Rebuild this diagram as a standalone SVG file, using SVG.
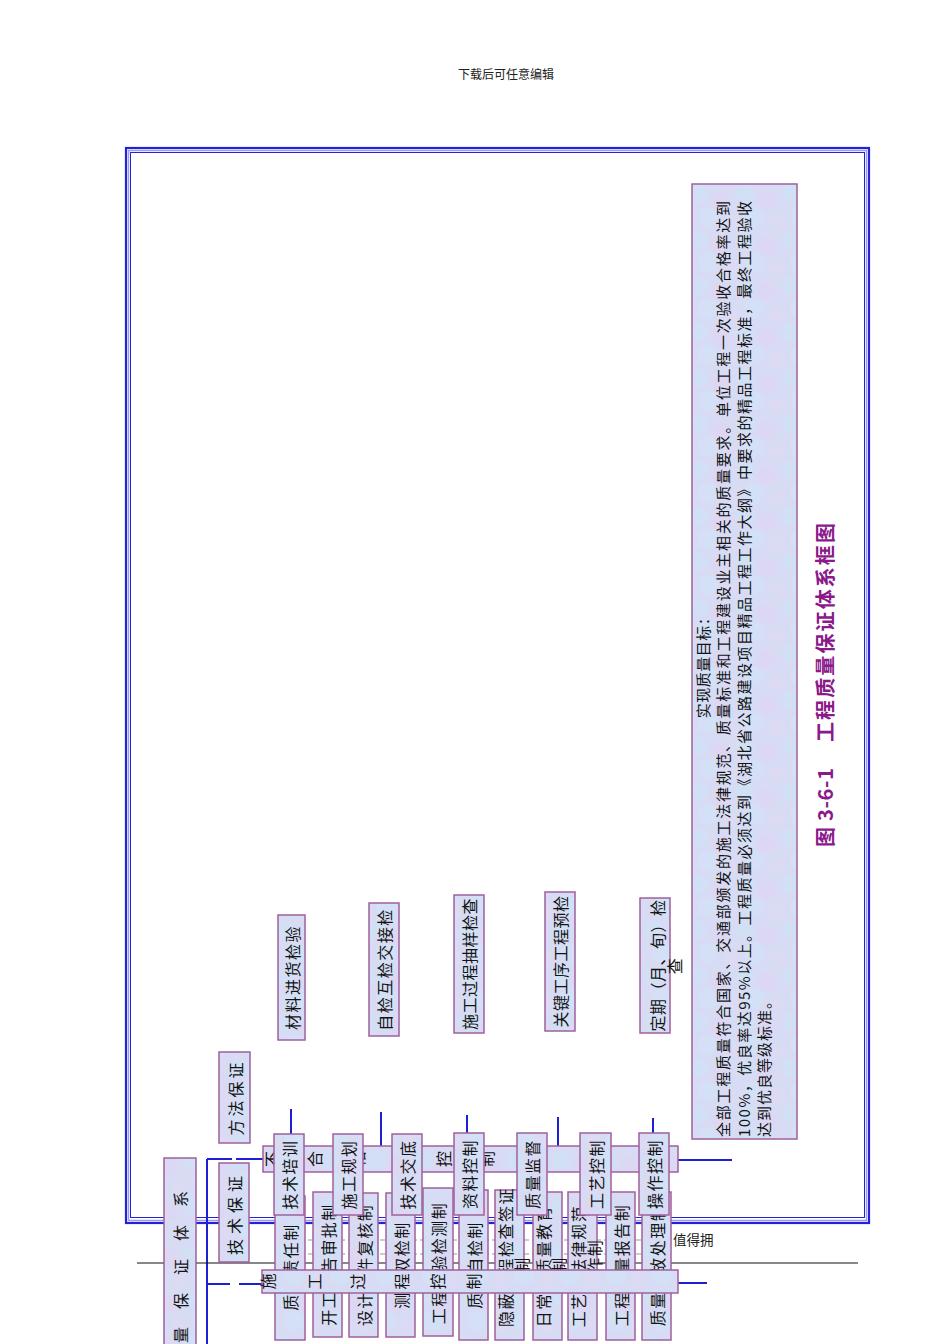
<svg xmlns="http://www.w3.org/2000/svg" width="950" height="1344" viewBox="0 0 950 1344">
<defs>
<pattern id="tex" width="46" height="46" patternUnits="userSpaceOnUse">
<rect width="46" height="46" fill="#d7dcf4"/>
<circle cx="9" cy="10" r="9" fill="#cfe2f6" opacity="0.6"/>
<circle cx="31" cy="16" r="10" fill="#e0d6f1" opacity="0.6"/>
<circle cx="18" cy="33" r="10" fill="#d0e2f7" opacity="0.6"/>
<circle cx="41" cy="38" r="7" fill="#e1d8f2" opacity="0.6"/>
</pattern>
<style>
.box{fill:url(#tex);stroke:#a0609c;stroke-width:1.5}
.t{font-family:"Noto Sans CJK SC","Noto Sans CJK JP",sans-serif;font-size:16px;letter-spacing:1.5px;text-anchor:middle;dominant-baseline:central;fill:#141414}
.t2{letter-spacing:0.5px}
.bt{font-family:"Noto Sans CJK SC","Noto Sans CJK JP",sans-serif;font-size:16px;fill:#141414}
.g{font-family:"Noto Sans CJK SC","Noto Sans CJK JP",sans-serif;font-size:15px;dominant-baseline:central;fill:#141414}
.ttl{font-family:"Noto Sans CJK SC","Noto Sans CJK JP",sans-serif;font-size:20px;font-weight:bold;dominant-baseline:central;fill:#8a1a8a}
.ln{stroke:#1e1ed2;stroke-width:2;fill:none}
.plain{font-family:"Noto Sans CJK SC","Noto Sans CJK JP",sans-serif;fill:#222}
</style>
</defs>
<rect width="950" height="1344" fill="#fff"/>
<text class="plain" x="506" y="79" font-size="12" text-anchor="middle">下载后可任意编辑</text>

<g id="frame">
<rect x="126" y="148" width="743" height="1075" fill="none" stroke="#2323d6" stroke-width="2.2"/>
<rect x="128.5" y="150.5" width="738" height="1070" fill="none" stroke="#9a9aff" stroke-width="1.5"/>
<rect x="130.5" y="152.5" width="734" height="1065" fill="none" stroke="#2323d6" stroke-width="1"/>
</g>

<g id="connectors">
<line class="ln" x1="207" y1="1159" x2="207" y2="1344"/>
<path class="ln" d="M207 1159H232M236 1159H264M207 1284H230M239 1284H263"/>
<path class="ln" d="M291 1109V1150M381 1112V1150M467 1115V1150M558 1117V1150M653 1118V1150"/>
<path class="ln" d="M676 1160H732M676 1283H707"/>
<line x1="137" y1="1263" x2="858" y2="1263" stroke="#111" stroke-width="1.2"/>
<path d="M300 1240H668M300 1254H668" stroke="#999" stroke-width="1" stroke-dasharray="5 3" fill="none"/>
</g>

<text class="plain" x="673" y="1245" font-size="13.5">值得拥</text>

<g id="goal">
<rect class="box" x="692" y="184" width="105" height="955"/>
<text class="g" style="text-anchor:middle;letter-spacing:0.5px" transform="translate(702 664) rotate(-90)">实现质量目标：</text>
<text class="g" textLength="936" lengthAdjust="spacing" transform="translate(722 1137) rotate(-90)">全部工程质量符合国家、交通部颁发的施工法律规范、质量标准和工程建设业主相关的质量要求。单位工程一次验收合格率达到</text>
<text class="g" textLength="936" lengthAdjust="spacing" transform="translate(743 1137) rotate(-90)">100%，优良率达95%以上。工程质量必须达到《湖北省公路建设项目精品工程工作大纲》中要求的精品工程标准，最终工程验收</text>
<text class="g" style="letter-spacing:1px" transform="translate(763 1137) rotate(-90)">达到优良等级标准。</text>
</g>

<g id="title">
<text class="ttl" textLength="79" lengthAdjust="spacing" transform="translate(824 847) rotate(-90)">图 3-6-1</text>
<text class="ttl" textLength="219" lengthAdjust="spacing" transform="translate(824 742) rotate(-90)">工程质量保证体系框图</text>
</g>

<g id="check1"><rect class="box" x="278" y="915" width="27" height="125"/><text class="t" transform="translate(291.5 977.5) rotate(-90)">材料进货检验</text></g>
<g id="check2"><rect class="box" x="369" y="903" width="30" height="133"/><text class="t" transform="translate(384 969.5) rotate(-90)">自检互检交接检</text></g>
<g id="check3"><rect class="box" x="454" y="895" width="30" height="138"/><text class="t t2" transform="translate(469 964) rotate(-90)">施工过程抽样检查</text></g>
<g id="check4"><rect class="box" x="545" y="892" width="30" height="139"/><text class="t t2" transform="translate(560 961.5) rotate(-90)">关键工序工程预检</text></g>
<g id="check5"><rect class="box" x="640" y="898" width="30" height="135"/><text class="t t2" transform="translate(657 965.5) rotate(-90)">定期（月、旬）检</text><text class="t" transform="translate(674 965.5) rotate(-90)">查</text></g>

<g id="method"><rect class="box" x="219" y="1052" width="31" height="91"/><text class="t" style="font-size:16px;letter-spacing:3px" transform="translate(234.5 1097.5) rotate(-90)">方法保证</text></g>
<g id="tech"><rect class="box" x="219" y="1163" width="30" height="99"/><text class="t" style="font-size:16px;letter-spacing:5px" transform="translate(234 1213) rotate(-90)">技术保证</text></g>
<g id="system"><rect class="box" x="164" y="1158" width="32" height="200"/><text class="t" style="letter-spacing:18px;text-anchor:start" transform="translate(180 1343) rotate(-90)">量保证体系</text></g>

<g id="bar-top"><rect class="box" x="263" y="1146" width="415" height="26"/><text class="bt" x="278 321 364 407 450 493" y="1167" rotate="-90">不合格品控制</text></g>

<g id="ta"><rect class="box" x="275" y="1196" width="30" height="144"/><text class="t" transform="translate(290 1267) rotate(-90)">质量责任制</text></g>
<g id="tb"><rect class="box" x="313" y="1192" width="29" height="145"/><text class="t" transform="translate(327.5 1264.5) rotate(-90)">开工报告审批制</text></g>
<g id="tc"><rect class="box" x="349" y="1193" width="29" height="144"/><text class="t" transform="translate(363.5 1265) rotate(-90)">设计文件复核制</text></g>
<g id="td"><rect class="box" x="386" y="1193" width="29" height="144"/><text class="t" transform="translate(400.5 1265) rotate(-90)">测量双检制</text></g>
<g id="te"><rect class="box" x="423" y="1188" width="30" height="148"/><text class="t" transform="translate(438 1263) rotate(-90)">工程试验检测制</text></g>
<g id="tf"><rect class="box" x="459" y="1190" width="29" height="150"/><text class="t" transform="translate(473.5 1265) rotate(-90)">质量自检制</text></g>
<g id="tg"><rect class="box" x="495" y="1190" width="29" height="150"/><text class="t" style="text-anchor:start" transform="translate(505 1327) rotate(-90)">隐蔽工程检查签证</text><text class="t" transform="translate(521 1265) rotate(-90)">制</text></g>
<g id="th"><rect class="box" x="533" y="1192" width="29" height="148"/><text class="t" transform="translate(543 1266) rotate(-90)">日常性质量教育</text><text class="t" transform="translate(558 1265) rotate(-90)">制</text></g>
<g id="ti"><rect class="box" x="568" y="1192" width="29" height="148"/><text class="t" transform="translate(578 1266) rotate(-90)">工艺按法律规范</text><text class="t" transform="translate(594 1265) rotate(-90)">操作制</text></g>
<g id="tj"><rect class="box" x="606" y="1192" width="29" height="148"/><text class="t" transform="translate(620.5 1265) rotate(-90)">工程质量报告制</text></g>
<g id="tk"><rect class="box" x="642" y="1192" width="29" height="148"/><text class="t" transform="translate(656.5 1265) rotate(-90)">质量事故处理制</text></g>

<g id="s1"><rect class="box" x="274" y="1134" width="30" height="81"/><text class="t" transform="translate(289 1174.5) rotate(-90)">技术培训</text></g>
<g id="s2"><rect class="box" x="333" y="1134" width="30" height="81"/><text class="t" transform="translate(348 1174.5) rotate(-90)">施工规划</text></g>
<g id="s3"><rect class="box" x="392" y="1134" width="30" height="81"/><text class="t" transform="translate(407 1174.5) rotate(-90)">技术交底</text></g>
<g id="s4"><rect class="box" x="454" y="1133" width="30" height="82"/><text class="t" transform="translate(469 1174) rotate(-90)">资料控制</text></g>
<g id="s5"><rect class="box" x="517" y="1133" width="30" height="82"/><text class="t" transform="translate(532 1174) rotate(-90)">质量监督</text></g>
<g id="s6"><rect class="box" x="580" y="1133" width="31" height="82"/><text class="t" transform="translate(595.5 1174) rotate(-90)">工艺控制</text></g>
<g id="s7"><rect class="box" x="639" y="1133" width="30" height="82"/><text class="t" transform="translate(654 1174) rotate(-90)">操作控制</text></g>

<g id="bar-bottom"><rect class="box" x="262" y="1270" width="416" height="23"/><text class="bt" x="274 321 364 408 444 480" y="1289.5" rotate="-90">施工过程控制</text></g>
</svg>
